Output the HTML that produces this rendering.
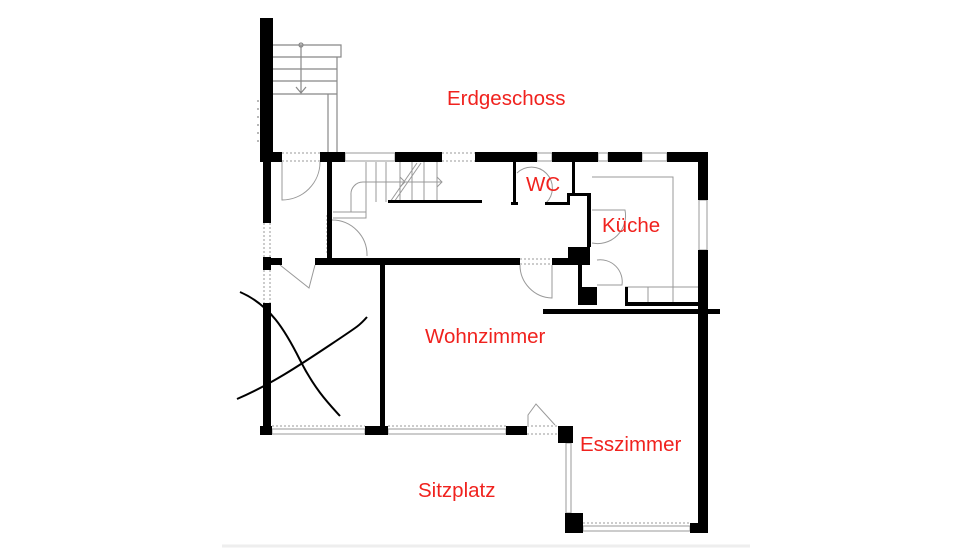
<!DOCTYPE html>
<html><head><meta charset="utf-8"><style>
html,body{margin:0;padding:0;background:#fff;}
svg{display:block}
text{font-family:"Liberation Sans",sans-serif;fill:#f0221e;font-size:20.5px}
</style></head><body>
<svg width="975" height="549" viewBox="0 0 975 549" xmlns="http://www.w3.org/2000/svg">
<rect width="975" height="549" fill="#fff"/>
<line x1="222" y1="546" x2="750" y2="546" stroke="#eee" stroke-width="3"/>
<g stroke="#888" stroke-width="1.2" fill="none">
<path d="M273 45 H341 V57 H337"/>
<line x1="273" y1="57" x2="337" y2="57"/>
<line x1="273" y1="69" x2="337" y2="69"/>
<line x1="273" y1="81" x2="337" y2="81"/>
<line x1="273" y1="94" x2="337" y2="94"/>
<line x1="328" y1="94" x2="328" y2="152"/>
<line x1="337" y1="57" x2="337" y2="152"/>
<line x1="301" y1="45" x2="301" y2="93"/>
<path d="M296 87 L301 93 L306 87"/>
<circle cx="301" cy="45" r="2"/>
<line x1="258" y1="100" x2="258" y2="145" stroke-dasharray="2 6"/>
</g>
<g stroke="#999" stroke-width="1" fill="none" stroke-dasharray="2 2">
<line x1="282" y1="153" x2="320" y2="153"/><line x1="282" y1="161" x2="320" y2="161"/>
<line x1="442" y1="153" x2="475" y2="153"/><line x1="442" y1="161" x2="475" y2="161"/>
<line x1="520" y1="259" x2="552" y2="259"/><line x1="520" y1="264" x2="552" y2="264"/>
<line x1="264" y1="223" x2="264" y2="257"/><line x1="270" y1="223" x2="270" y2="257"/>
<line x1="264" y1="270" x2="264" y2="303"/><line x1="270" y1="270" x2="270" y2="303"/>
<line x1="272" y1="426" x2="365" y2="426"/><line x1="388" y1="426" x2="506" y2="426"/>
<line x1="527" y1="426" x2="558" y2="426"/><line x1="527" y1="434" x2="558" y2="434"/>
<line x1="583" y1="523" x2="690" y2="523"/>
<line x1="327" y1="215" x2="327" y2="255"/>
<line x1="589" y1="205" x2="589" y2="245"/>
</g>
<g stroke="#999" stroke-width="1" fill="none">
<rect x="345" y="153" width="50" height="8"/>
<rect x="272" y="429" width="93" height="5"/>
<rect x="388" y="429" width="118" height="5"/>
<rect x="566" y="443" width="5" height="70"/>
<rect x="583" y="526" width="107" height="5"/>
<rect x="699" y="200" width="8" height="50"/>
<rect x="537" y="153" width="15" height="8"/><rect x="598" y="153" width="10" height="8"/><rect x="642" y="153" width="25" height="8"/>
<path d="M282 162 V200 A38 38 0 0 0 320 162"/>
<path d="M332 220 A35 35 0 0 1 367 256"/>
<path d="M280 265 L309 288 L315 265"/>
<path d="M520 265 A33 33 0 0 0 552 298 V265"/>
<path d="M528 425 V415 L536 404 L555 425"/>
<path d="M517 173 A20 20 0 0 1 546 203"/>
<path d="M592 210 H625 A28 28 0 0 1 592 243"/>
<path d="M597 260 A22 22 0 0 1 622 285 H597"/>
<path d="M592 177 H673 V287"/>
<path d="M625 287 H698 M648 287 V303 M673 287 V303"/>
<path d="M333 212 H366 V218 H333"/>
<line x1="366" y1="162" x2="366" y2="212"/><line x1="376" y1="162" x2="376" y2="202"/>
<line x1="386" y1="162" x2="386" y2="202"/><line x1="400" y1="162" x2="400" y2="202"/>
<line x1="412" y1="162" x2="412" y2="202"/><line x1="424" y1="162" x2="424" y2="202"/>
<line x1="437" y1="162" x2="437" y2="202"/>
<line x1="390" y1="202" x2="417" y2="163"/><line x1="394" y1="202" x2="421" y2="163"/>
<path d="M351 212 V195 A12 12 0 0 1 363 182 H442 M437 177 L442 182 L437 187"/>
<path d="M400 177 L405 182 L400 187"/>
</g>
<g fill="#000">
<rect x="260" y="18" width="13" height="144"/>
<rect x="263" y="160" width="8" height="63"/>
<rect x="263" y="257" width="8" height="13"/>
<rect x="263" y="303" width="8" height="132"/>
<rect x="260" y="426" width="12" height="9"/>
<rect x="260" y="152" width="22" height="10"/>
<rect x="320" y="152" width="25" height="10"/>
<rect x="395" y="152" width="47" height="10"/>
<rect x="475" y="152" width="62" height="10"/>
<rect x="552" y="152" width="46" height="10"/>
<rect x="608" y="152" width="34" height="10"/>
<rect x="667" y="152" width="41" height="10"/>
<rect x="698" y="152" width="10" height="48"/>
<rect x="698" y="250" width="10" height="283"/>
<rect x="543" y="309" width="177" height="5"/>
<rect x="327" y="152" width="5" height="106"/>
<rect x="263" y="258" width="19" height="7"/>
<rect x="315" y="258" width="205" height="7"/>
<rect x="552" y="258" width="38" height="7"/>
<rect x="568" y="247" width="22" height="18"/>
<rect x="380" y="265" width="5" height="170"/>
<rect x="365" y="426" width="23" height="9"/>
<rect x="506" y="426" width="21" height="9"/>
<rect x="558" y="426" width="15" height="17"/>
<rect x="565" y="513" width="18" height="20"/>
<rect x="690" y="523" width="18" height="10"/>
<rect x="578" y="265" width="4" height="22"/>
<rect x="578" y="287" width="19" height="18"/>
<rect x="625" y="287" width="3" height="18"/>
<rect x="625" y="302" width="73" height="4"/>
<rect x="587" y="193" width="4" height="54"/>
<rect x="513" y="162" width="3" height="43"/>
<rect x="511" y="202" width="7" height="3"/>
<rect x="545" y="202" width="25" height="3"/>
<rect x="567" y="193" width="3" height="12"/>
<rect x="567" y="193" width="24" height="3"/>
<rect x="572" y="162" width="3" height="33"/>
<rect x="388" y="200" width="94" height="3"/>
</g>
<g stroke="#000" stroke-width="2" fill="none">
<path d="M240 292 C270 305, 285 330, 300 360 S330 405, 340 416"/>
<path d="M237 399 C270 385, 300 365, 330 345 S360 325, 367 317"/>
</g>
<text x="447" y="105">Erdgeschoss</text>
<text x="526" y="191">WC</text>
<text x="602" y="232">Küche</text>
<text x="425" y="343">Wohnzimmer</text>
<text x="580" y="451">Esszimmer</text>
<text x="418" y="497">Sitzplatz</text>
</svg>
</body></html>
